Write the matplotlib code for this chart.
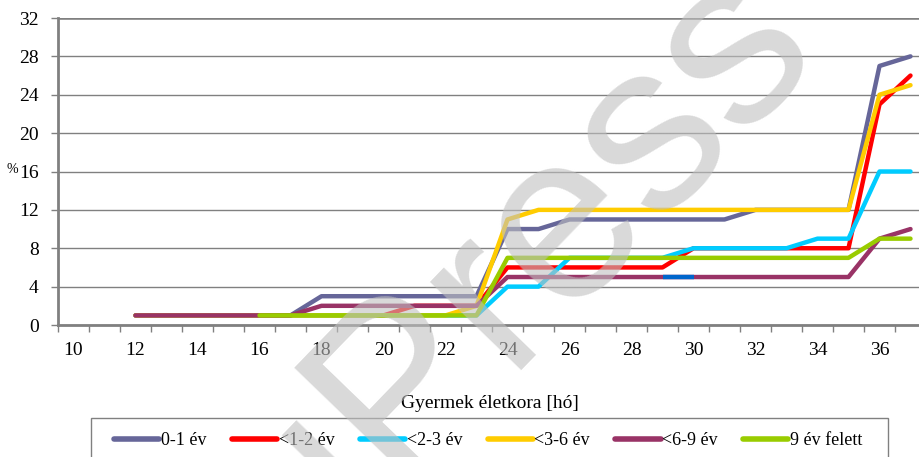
import numpy as np
import matplotlib
matplotlib.use("Agg")
import matplotlib.pyplot as plt
from matplotlib.patches import Rectangle
from matplotlib.ticker import FixedLocator, NullFormatter, FixedFormatter

nan = np.nan

months = list(range(10, 38))
tick_labels = [str(m) for m in range(10, 37, 2)]

ev_0_1 = [nan, nan, 1, 1, 1, 1, 1, 1, 3, 3, 3, 3, 3, 3, 10, 10, 11, 11, 11, 11, 11, 11, 12, 12, 12, 12, 27, 28]
ev_1_2 = [nan, nan, 1, 1, 1, 1, 1, 1, 1, 1, 1, 2, 2, 2, 6, 6, 6, 6, 6, 6, 8, 8, 8, 8, 8, 8, 23, 26]
ev_2_3 = [nan, nan, 1, 1, 1, 1, 1, 1, 1, 1, 1, 1, 1, 1, 4, 4, 7, 7, 7, 7, 8, 8, 8, 8, 9, 9, 16, 16]
ev_3_6 = [nan, nan, 1, 1, 1, 1, 1, 1, 1, 1, 1, 1, 1, 2, 11, 12, 12, 12, 12, 12, 12, 12, 12, 12, 12, 12, 24, 25]
ev_6_9 = [nan, nan, 1, 1, 1, 1, 1, 1, 2, 2, 2, 2, 2, 2, 5, 5, 5, 5, 5, 5, 5, 5, 5, 5, 5, 5, 9, 10]
ev_9_up = [nan, nan, nan, nan, nan, nan, 1, 1, 1, 1, 1, 1, 1, 1, 7, 7, 7, 7, 7, 7, 7, 7, 7, 7, 7, 7, 9, 9]
# short differently coloured piece of the <6-9 line
ev_6_9_mark = [nan] * 19 + [5, 5] + [nan] * 7

series = [
    ("0-1 év", ev_0_1, "#666699"),
    ("<1-2 év", ev_1_2, "#FF0000"),
    ("<2-3 év", ev_2_3, "#00CCFF"),
    ("<3-6 év", ev_3_6, "#FFCC00"),
    ("<6-9 év", ev_6_9, "#993366"),
    ("9 év felett", ev_9_up, "#99CC00"),
]

W, H = 920, 457
fig = plt.figure(figsize=(W / 100, H / 100), dpi=100)
ax = fig.add_axes([58 / W, (H - 325) / H, (926 - 58) / W, (325 - 18) / H])

serif = "Liberation Serif"
for i, (name, vals, col) in enumerate(series):
    ax.plot(months, vals, color=col, lw=3.2, solid_capstyle="round",
            solid_joinstyle="round", label=name, zorder=3 + i)
    if name == "<6-9 év":
        ax.plot(months, ev_6_9_mark, color="#0066CC", lw=3.2,
                solid_capstyle="butt", zorder=3 + i + 0.5)

ax.set_xlim(9.5, 37.5)
ax.set_ylim(0, 32)
ax.set_yticks(range(0, 33, 4))
ax.grid(axis="y", color="#808080", lw=1.0)
ax.set_axisbelow(True)

ax.xaxis.set_major_locator(FixedLocator(np.arange(9.5, 38, 1)))
ax.xaxis.set_major_formatter(NullFormatter())
ax.xaxis.set_minor_locator(FixedLocator(range(10, 37, 2)))
ax.xaxis.set_minor_formatter(FixedFormatter(tick_labels))
ax.tick_params(axis="x", which="major", length=5, width=1, color="#808080", direction="out")
ax.tick_params(axis="x", which="minor", length=0, pad=12, labelsize=14)
ax.tick_params(axis="y", length=5, width=1, color="#808080", pad=9, labelsize=14)
for lab in ax.get_xticklabels(minor=True) + ax.get_yticklabels():
    lab.set_fontfamily(serif)

for s in ["top", "right"]:
    ax.spines[s].set_visible(False)
for s in ["left", "bottom"]:
    ax.spines[s].set_color("#808080")
    ax.spines[s].set_linewidth(2)
ax.axhline(32, color="#808080", lw=1.8, zorder=1)

fig.text(12 / W, 1 - 170 / H, "%", fontsize=10, family=serif, ha="center", va="center")
fig.text(490 / W, 1 - 403 / H, "Gyermek életkora [hó]", fontsize=14, family=serif,
         ha="center", va="center")

# legend box, running off the bottom of the picture
fig.patches.append(Rectangle((91 / W, -20 / H), 797 / W, (457 - 418 + 20) / H,
                             transform=fig.transFigure, facecolor="none",
                             edgecolor="#808080", lw=1.0, zorder=0))
leg = ax.legend(loc="upper left", bbox_to_anchor=(114 / W, 1 - 432 / H),
                bbox_transform=fig.transFigure, ncol=6, frameon=False,
                handlelength=2.5, handletextpad=0.1,
                columnspacing=1.4, borderpad=0, borderaxespad=0,
                prop={"family": serif, "size": 13})
for h in leg.get_lines():
    h.set_linewidth(4)

# watermark
fig.text(414 / W, 1 - 372 / H, "EduPress", fontsize=172, family="Liberation Sans",
         color="#c0c0c0", alpha=0.6, rotation=46, rotation_mode="anchor",
         ha="center", va="center", zorder=20)

fig.savefig("out.png", dpi=100)
